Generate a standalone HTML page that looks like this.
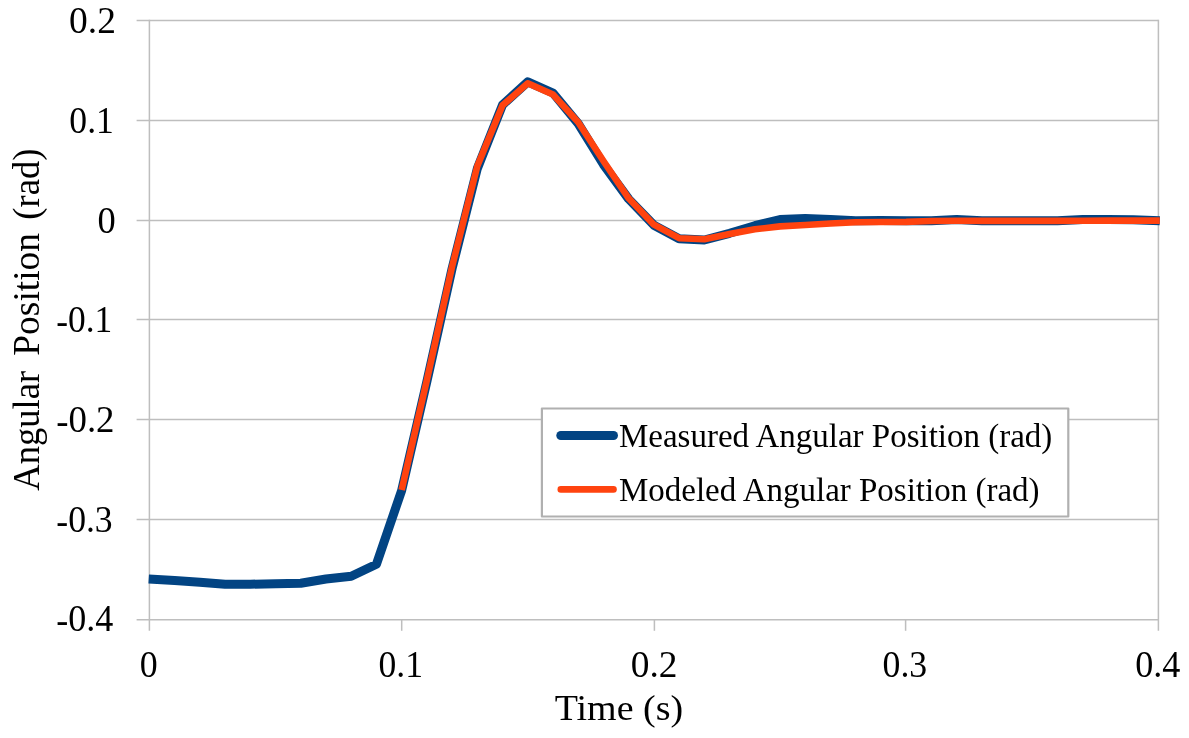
<!DOCTYPE html>
<html><head><meta charset="utf-8"><style>
html,body{margin:0;padding:0;background:#fff;}
body{width:1189px;height:738px;overflow:hidden;}
svg{display:block;}
text{font-family:"Liberation Serif",serif;fill:#000;}
</style></head><body>
<svg width="1189" height="738" viewBox="0 0 1189 738">
<rect width="1189" height="738" fill="#fff"/>
<g stroke="#bebebe" stroke-width="1.5" fill="none">
<line x1="136.6" y1="20.55" x2="1158.4" y2="20.55"/>
<line x1="136.6" y1="120.6" x2="1158.4" y2="120.6"/>
<line x1="136.6" y1="220.5" x2="1158.4" y2="220.5"/>
<line x1="136.6" y1="319.6" x2="1158.4" y2="319.6"/>
<line x1="136.6" y1="419.6" x2="1158.4" y2="419.6"/>
<line x1="136.6" y1="519.6" x2="1158.4" y2="519.6"/>
<line x1="136.6" y1="619.7" x2="1158.4" y2="619.7"/>
<line x1="149.4" y1="19.8" x2="149.4" y2="630.8"/>
<line x1="1158.4" y1="19.8" x2="1158.4" y2="630.8"/>
<line x1="401.70" y1="619.7" x2="401.70" y2="630.8"/>
<line x1="654.40" y1="619.7" x2="654.40" y2="630.8"/>
<line x1="905.60" y1="619.7" x2="905.60" y2="630.8"/>
</g>
<polyline points="148.70,578.96 174.62,580.60 199.85,582.15 225.07,584.30 250.30,584.20 275.53,583.80 300.75,583.20 325.98,579.00 351.20,576.20 376.43,564.20 401.65,490.50 426.88,381.50 452.10,268.50 477.33,168.50 502.55,104.80 527.78,81.80 553.00,93.00 578.23,123.60 603.45,164.50 628.68,199.00 653.90,225.20 679.12,238.70 704.35,240.00 729.58,233.30 754.80,225.70 780.02,219.60 805.25,218.50 830.48,219.60 855.70,220.80 880.92,220.60 906.15,220.80 931.38,220.65 956.60,219.60 981.83,220.70 1007.05,220.75 1032.28,220.80 1057.50,220.70 1082.73,219.60 1107.95,219.60 1133.18,219.70 1159.80,220.81" fill="none" stroke="#024483" stroke-width="9" stroke-linejoin="round"/>
<polyline points="401.65,490.00 426.88,380.00 452.10,266.50 477.33,166.00 502.55,105.30 527.78,83.30 553.00,94.60 578.23,122.20 603.45,161.00 628.68,198.30 653.90,224.70 679.12,238.20 704.35,239.20 729.58,234.10 754.80,229.30 780.02,226.40 805.25,225.00 830.48,223.50 855.70,222.25 880.93,222.05 906.15,221.90 931.38,221.00 956.60,220.70 981.83,220.90 1007.05,220.90 1032.28,220.90 1057.50,220.90 1082.73,220.80 1107.95,220.60 1133.18,220.60 1159.80,220.60" fill="none" stroke="#ff430f" stroke-width="6.6" stroke-linejoin="round"/>
<g font-size="38" style="will-change:transform">
<text transform="translate(69.02,33) scale(0.9867,1)">0.2</text>
<text transform="translate(69.37,133) scale(0.9373,1)">0.1</text>
<text transform="translate(97.47,233) scale(0.9592,1)">0</text>
<text transform="translate(56.21,332) scale(0.9310,1)"><tspan dy="2">-</tspan><tspan dy="-2">0.1</tspan></text>
<text transform="translate(56.19,432) scale(0.9700,1)"><tspan dy="2">-</tspan><tspan dy="-2">0.2</tspan></text>
<text transform="translate(56.24,532) scale(0.9387,1)"><tspan dy="2">-</tspan><tspan dy="-2">0.3</tspan></text>
<text transform="translate(56.20,631) scale(0.9485,1)"><tspan dy="2">-</tspan><tspan dy="-2">0.4</tspan></text>
<text transform="translate(139.87,677) scale(0.9446,1)">0</text>
<text transform="translate(378.52,677) scale(0.9373,1)">0.1</text>
<text transform="translate(630.77,677) scale(0.9845,1)">0.2</text>
<text transform="translate(882.52,677) scale(0.9403,1)">0.3</text>
<text transform="translate(1135.15,677) scale(0.9527,1)">0.4</text>
<text transform="translate(618.9,720) scale(1,0.96)" text-anchor="middle">Time (s)</text>
<text transform="translate(39,490.69) rotate(-90) scale(0.9630,1)">Angular</text>
<text transform="translate(39,355.69) rotate(-90) scale(0.9850,1)">Position</text>
<text transform="translate(39,219.68) rotate(-90) scale(0.9632,1)">(rad)</text>
</g>
<rect x="541.9" y="408.5" width="526.4" height="108" fill="#fff" stroke="#b0b0b0" stroke-width="2.2" stroke-linejoin="round"/>
<line x1="560.8" y1="435.5" x2="613.5" y2="435.5" stroke="#024483" stroke-width="9" stroke-linecap="round"/>
<line x1="560.8" y1="489.4" x2="613.5" y2="489.4" stroke="#ff430f" stroke-width="6.6" stroke-linecap="round"/>
<g font-size="33" style="will-change:transform">
<text transform="translate(619,447) scale(1,0.999)">Measured Angular Position (rad)</text>
<text transform="translate(619,501) scale(1,0.999)">Modeled Angular Position (rad)</text>
</g>
</svg>
</body></html>
